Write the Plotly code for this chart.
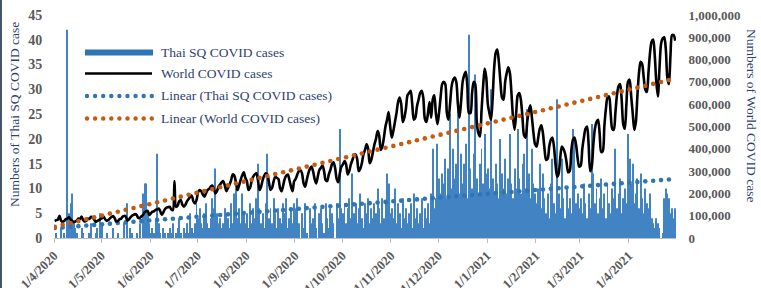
import numpy as np
import pandas as pd
import plotly.graph_objects as go

# ---------------- data ----------------
start_date = "2020-04-01"
end_date = "2021-04-30"

thai_apr20 = [0,1,0,0,2,0,1,0,42,5,7,9,3,2,1,0,0,2,1,0,0,0,1,3,0,0,1,2,0,5]
thai_may20 = [3,0,0,1,0,0,0,2,0,0,1,0,0,0,3,0,7,0,2,1,0,0,1,0,3,0,9,11,11,5,3]
thai_jun20 = [1,2,1,4,17,3,1,0,2,1,0,1,2,1,3,0,1,2,4,1,0,2,1,3,1,5,2,1,3,7]
thai_jul20 = [4,6,3,2,5,7,3,2,4,8,6,14,5,3,4,2,3,6,5,4,2,7,3,9,10,4,6,3,9,5,3]
thai_aug20 = [5,2,7,3,6,4,8,15,6,3,5,2,7,17,4,6,3,8,5,2,6,4,3,7,5,8,2,4,6,3,7]
thai_sep20 = [6,8,3,0,5,2,7,1,0,6,3,4,7,2,0,5,6,3,1,7,4,2,6,5,3,0,7,4,22,6]
thai_oct20 = [5,7,3,6,8,4,13,5,7,3,6,9,4,2,7,5,8,3,6,4,7,5,10,6,3,8,4,7,13,11,5]
thai_nov20 = [6,4,10,3,7,5,2,8,4,6,3,5,7,2,9,4,6,3,5,8,2,6,4,7,3,9,18,6,8,19]
thai_dec20 = [12,9,13,11,16,8,14,25,10,18,12,15,27,9,17,11,15,19,8,41,14,10,17,33,12,9,15,18,11,21,13]
thai_jan21 = [14,10,30,12,9,15,11,8,20,13,10,16,9,12,21,11,8,14,10,22,12,9,15,17,10,26,13,8,18,11,9]
thai_feb21 = [7,10,15,6,13,8,5,9,4,11,16,7,5,28,9,6,16,8,4,10,6,8,5,22,20,7,9,6]
thai_mar21 = [8,5,11,7,4,9,6,23,13,7,10,5,8,12,6,9,4,11,7,5,10,8,18,6,9,12,5,8,10,7,21]
thai_apr21 = [16,11,15,7,9,12,6,13,8,5,10,7,6,9,4,3,2,4,3,2,0,1,8,10,9,8,5,6,4,6]

# world daily cases, in thousands
world_apr20 = [76,80,83,100,78,73,76,85,87,93,84,77,71,74,79,87,85,96,81,74,77,87,85,95,92,83,72,77,80,85]
world_may20 = [89,95,84,77,81,88,94,98,90,74,76,84,86,95,99,97,79,83,92,100,104,107,103,90,90,97,103,115,120,122,103]
world_jun20 = [110,118,120,126,128,132,120,104,116,130,136,138,140,128,125,255,140,145,165,170,150,140,150,165,175,185,190,165,155,170]
world_jul20 = [205,215,210,195,185,200,215,220,230,235,220,200,210,230,240,250,255,235,210,225,240,260,285,280,250,215,235,260,280,295,270]
world_aug20 = [255,215,225,255,275,285,290,260,215,230,260,280,290,285,250,215,225,255,275,270,265,225,210,235,265,280,285,260,230,210,255]
world_sep20 = [265,285,300,305,290,245,230,260,290,310,320,300,265,245,275,305,315,325,300,260,255,285,305,330,340,315,265,250,290,320]
world_oct20 = [330,345,330,285,300,330,350,370,375,355,300,310,335,375,395,420,400,335,350,385,420,445,480,460,395,410,450,500,530,565,500]
world_nov20 = [450,480,520,560,610,630,600,520,540,580,640,650,660,600,530,540,590,620,650,660,630,535,520,560,610,540,620,640,560,510]
world_dec20 = [560,630,690,700,690,560,530,600,680,710,720,700,600,540,610,700,730,745,680,560,560,650,700,690,520,470,455,570,680,760,720]
world_jan21 = [600,560,530,620,760,830,845,790,700,630,620,700,740,765,740,650,540,485,560,640,650,620,540,460,450,520,570,595,540,470,420]
world_feb21 = [410,450,490,505,470,400,350,355,410,440,450,410,330,275,290,360,410,400,380,340,295,300,390,440,450,420,360,320]
world_mar21 = [325,400,450,490,500,420,300,320,420,490,520,530,470,385,390,500,580,630,635,560,490,485,560,640,680,690,620,510,490,600,700]
world_apr21 = [710,640,560,485,520,640,740,790,780,720,665,655,740,830,880,890,820,700,635,760,870,895,900,850,720,690,820,910,910,885]
world_unit = 1000

x_tick_labels = ["1/4/2020","1/5/2020","1/6/2020","1/7/2020","1/8/2020","1/9/2020","1/10/2020",
                 "1/11/2020","1/12/2020","1/1/2021","1/2/2021","1/3/2021","1/4/2021"]
left_ticks = [0,5,10,15,20,25,30,35,40,45]
right_ticks = [0,100000,200000,300000,400000,500000,600000,700000,800000,900000,1000000]

series_names = ["Thai SQ COVID cases", "World COVID cases",
                "Linear (Thai SQ COVID cases)", "Linear (World COVID cases)"]

# ---------------- assemble ----------------
thai = np.array(thai_apr20+thai_may20+thai_jun20+thai_jul20+thai_aug20+thai_sep20+thai_oct20
                +thai_nov20+thai_dec20+thai_jan21+thai_feb21+thai_mar21+thai_apr21, dtype=float)
world = np.array(world_apr20+world_may20+world_jun20+world_jul20+world_aug20+world_sep20+world_oct20
                 +world_nov20+world_dec20+world_jan21+world_feb21+world_mar21+world_apr21, dtype=float) * world_unit

days = pd.date_range(start_date, end_date, freq="D")
xdates = days + pd.Timedelta(hours=12)
idx = np.arange(len(days))

# linear trend lines (least squares, as the spreadsheet's trendline)
pt = np.polyfit(idx, thai, 1)
pw = np.polyfit(idx, world, 1)
dot_idx = np.arange(0, len(days), 5)
thai_trend = np.polyval(pt, dot_idx)
world_trend = np.polyval(pw, dot_idx)
dot_x = xdates[dot_idx]

tickvals = pd.date_range(start_date, periods=len(x_tick_labels), freq="MS")

BLUE = "#2E75B6"
BAR_BLUE = "#4283C4"
ORANGE = "#C55A11"
NAVY = "#2F4172"
GRAY = "#595959"
FONT = "Liberation Serif"

fig = go.Figure()
fig.add_trace(go.Bar(x=xdates, y=thai, name=series_names[0], marker=dict(color=BAR_BLUE, line=dict(width=0)),
                     yaxis="y", showlegend=False))
fig.add_trace(go.Scatter(x=dot_x, y=thai_trend, name=series_names[2], mode="markers",
                         marker=dict(color=BLUE, size=4.6, line=dict(width=0)), yaxis="y", showlegend=False))
fig.add_trace(go.Scatter(x=xdates, y=world, name=series_names[1], mode="lines",
                         line=dict(color="black", width=2.6, shape="spline", smoothing=0.8),
                         yaxis="y2", showlegend=False))
fig.add_trace(go.Scatter(x=dot_x, y=world_trend, name=series_names[3], mode="markers",
                         marker=dict(color=ORANGE, size=4.6, line=dict(width=0)), yaxis="y2", showlegend=False))

# plot area geometry (pixels)
W, H = 761, 288
L, R, T, B = 54, 85, 15, 50
PW, PH = W - L - R, H - T - B

def px(xp):
    return (xp - L) / PW

def py(yp):
    return 1 - (yp - T) / PH

shapes = []
annotations = []
# custom legend
legend_rows = [52, 73.5, 96, 118.5]
shapes.append(dict(type="rect", xref="paper", yref="paper", x0=px(85), x1=px(153),
                   y0=py(55.5), y1=py(49.5), fillcolor=BLUE, line=dict(width=0)))
shapes.append(dict(type="line", xref="paper", yref="paper", x0=px(85), x1=px(152),
                   y0=py(73.5), y1=py(73.5), line=dict(color="black", width=2.4)))
r = 2.2
for yr, col in [(96, BLUE), (118.5, ORANGE)]:
    for k in range(9):
        cx = 87 + k * 8.1
        shapes.append(dict(type="circle", xref="paper", yref="paper",
                           x0=px(cx - r), x1=px(cx + r), y0=py(yr + r), y1=py(yr - r),
                           fillcolor=col, line=dict(width=0)))
for name, yr in zip(series_names, legend_rows):
    annotations.append(dict(text=name, xref="paper", yref="paper", x=px(159), y=py(yr),
                            xanchor="left", yanchor="middle", showarrow=False,
                            font=dict(family=FONT, size=13.5, color=NAVY)))
# axis titles
annotations.append(dict(text="Numbers of Thai SQ COVID case", xref="paper", yref="paper",
                        x=px(15), y=py(115), xanchor="center", yanchor="middle", showarrow=False,
                        textangle=-90, font=dict(family=FONT, size=13.5, color=NAVY)))
annotations.append(dict(text="Numbers of World COVID case", xref="paper", yref="paper",
                        x=px(751), y=py(115), xanchor="center", yanchor="middle", showarrow=False,
                        textangle=90, font=dict(family=FONT, size=13.5, color=NAVY)))
# left frame edge
shapes.append(dict(type="line", xref="paper", yref="paper", x0=px(1), x1=px(1), y0=py(0), y1=py(288),
                   line=dict(color="#44546A", width=2)))

fig.update_layout(
    width=W, height=H,
    margin=dict(l=L, r=R, t=T, b=B, pad=0, autoexpand=False),
    paper_bgcolor="white", plot_bgcolor="white",
    bargap=0.4,
    showlegend=False,
    shapes=shapes, annotations=annotations,
    xaxis=dict(type="date", range=[pd.Timestamp(start_date), pd.Timestamp(end_date) + pd.Timedelta(days=1)],
               tickvals=tickvals, ticktext=x_tick_labels, tickangle=-45, automargin=False,
               tickfont=dict(family=FONT, size=13, color=GRAY, weight="bold"),
               showgrid=False, zeroline=False, showline=True, linecolor="#BFBFBF", linewidth=1,
               ticks="outside", ticklen=4, tickcolor="#BFBFBF"),
    yaxis=dict(range=[0, 45], tickvals=left_ticks, showgrid=False, zeroline=False, showline=False,
               ticks="outside", ticklen=8, tickcolor="rgba(0,0,0,0)", automargin=False,
               tickfont=dict(family=FONT, size=14, color=GRAY, weight="bold")),
    yaxis2=dict(range=[0, 1000000], tickvals=right_ticks, tickformat=",d", overlaying="y", side="right",
                showgrid=False, zeroline=False, showline=False, automargin=False,
                ticks="outside", ticklen=9, tickcolor="rgba(0,0,0,0)",
                tickfont=dict(family=FONT, size=13, color=GRAY, weight="bold")),
)

fig.write_html("out.html", config={"displayModeBar": False},
               post_script="document.body.style.margin='0px';")
